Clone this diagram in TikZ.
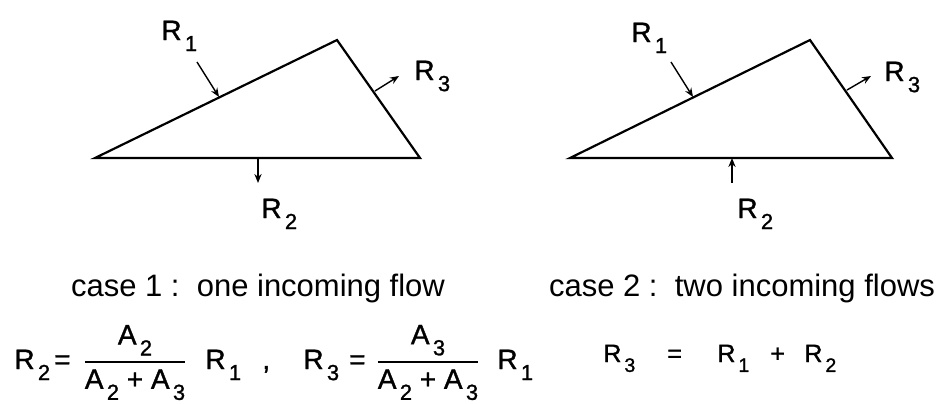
\documentclass[tikz,border=0pt]{standalone}
\usepackage{amsmath}
\usepackage{fontspec}
\setmainfont{Liberation Sans}
\newfontfamily\heavyfont{Liberation Sans}[FakeBold=1.2]
\usetikzlibrary{arrows.meta, positioning, calc}

\newcommand{\lowsub}[1]{\kern0.12em\raisebox{-0.75ex}{\scalebox{0.78}{#1}}}
\newcommand{\areafrac}[2]{$\displaystyle\genfrac{}{}{0.9pt}{}{\mbox{#1}}{\mbox{#2}}$}

\begin{document}
\begin{tikzpicture}[
        x=0.5pt, y=-0.5pt,
        side/.style={line width=1.1pt, line join=miter},
        flow/.style={-{Stealth[length=4.5pt, width=3.6pt]}, line width=0.7pt},
        lbl/.style={inner sep=0pt, anchor=base west, font=\heavyfont\fontsize{14}{16}\selectfont},
        caption/.style={inner sep=0pt, anchor=base, font=\fontsize{15.5}{18}\selectfont},
        eq/.style={inner sep=0pt, anchor=base west, font=\heavyfont\fontsize{14}{17}\selectfont},
        eqsmall/.style={inner sep=0pt, anchor=base west, font=\heavyfont\fontsize{12.5}{15}\selectfont}
    ]
        \useasboundingbox (0,0) rectangle (944,403);

        % case 1
        \coordinate (la) at (95,158);
        \coordinate (lb) at (337,40);
        \coordinate (lc) at (420,158);
        \draw[side] (la) -- (lb) -- (lc) -- cycle;

        \coordinate (lin1) at (197,62);
        \coordinate (lhit1) at (219,97);
        \coordinate (lout3) at (375,91);
        \coordinate (lend3) at (399,76);
        \coordinate (lout2) at (258,158);
        \coordinate (lend2) at (258,183);
        \draw[flow] (lin1) -- (lhit1);
        \draw[flow] (lout3) -- (lend3);
        \draw[flow] (lout2) -- (lend2);

        \node[lbl] (lr1) at (161,40) {R\lowsub{1}};
        \node[lbl] (lr3) at (414,80) {R\lowsub{3}};
        \node[lbl] (lr2) at (261,218) {R\lowsub{2}};

        % case 2
        \coordinate (ra) at (570,158);
        \coordinate (rb) at (810,40);
        \coordinate (rc) at (892,158);
        \draw[side] (ra) -- (rb) -- (rc) -- cycle;

        \coordinate (rin1) at (671,62);
        \coordinate (rhit1) at (693,97);
        \coordinate (rout3) at (847,90);
        \coordinate (rend3) at (871,76);
        \coordinate (rin2) at (732,183);
        \coordinate (rhit2) at (732,158);
        \draw[flow] (rin1) -- (rhit1);
        \draw[flow] (rout3) -- (rend3);
        \draw[flow] (rin2) -- (rhit2);

        \node[lbl] (rr1) at (631,42) {R\lowsub{1}};
        \node[lbl] (rr3) at (884,81) {R\lowsub{3}};
        \node[lbl] (rr2) at (737,218) {R\lowsub{2}};

        % captions
        \node[caption] (capone) at (258,296) {case 1 :\ \ one incoming flow};
        \node[caption] (captwo) at (742,296) {case 2 :\ \ two incoming flows};

        % left equations
        \node[eq] (eqr2) at (14,369) {R\lowsub{2}\kern2pt=};
        \node[eq, anchor=base] (fracone) at (135,369) {\areafrac{A\lowsub{2}}{A\lowsub{2} + A\lowsub{3}}};
        \node[eq] (eqr1a) at (205,369) {R\lowsub{1}};
        \node[eq] (comma) at (262,369) {,};
        \node[eq] (eqr3) at (303,369) {R\lowsub{3}\kern5pt=};
        \node[eq, anchor=base] (fractwo) at (428,369) {\areafrac{A\lowsub{3}}{A\lowsub{2} + A\lowsub{3}}};
        \node[eq] (eqr1b) at (497,369) {R\lowsub{1}};

        % right equation
        \node[eqsmall] (sumr3) at (603,362) {R\lowsub{3}};
        \node[eqsmall] (sumeq) at (667,362) {=};
        \node[eqsmall] (sumr1) at (717,362) {R\lowsub{1}};
        \node[eqsmall] (sumplus) at (770,362) {+};
        \node[eqsmall] (sumr2) at (804,362) {R\lowsub{2}};
    \end{tikzpicture}
\end{document}
